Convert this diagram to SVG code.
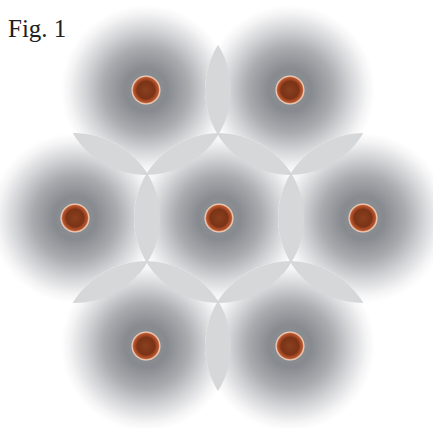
<svg xmlns="http://www.w3.org/2000/svg" width="433" height="428" viewBox="0 0 433 428">
  <defs>
    <radialGradient id="halo" cx="0.5" cy="0.5" r="0.5">
      <stop offset="0" stop-color="#8f9297"/>
      <stop offset="0.25" stop-color="#878a8f"/>
      <stop offset="0.5" stop-color="#a9abaf"/>
      <stop offset="0.72" stop-color="#d4d5d7"/>
      <stop offset="0.9" stop-color="#f4f4f5"/>
      <stop offset="1" stop-color="#ffffff"/>
    </radialGradient>
    <radialGradient id="dot" cx="0.5" cy="0.5" r="0.5">
      <stop offset="0" stop-color="#8a4020"/>
      <stop offset="0.6" stop-color="#7a3316"/>
      <stop offset="0.72" stop-color="#9c4422"/>
      <stop offset="0.86" stop-color="#b9562e"/>
      <stop offset="0.94" stop-color="#ecc2a6"/>
      <stop offset="1" stop-color="#f2d8c8"/>
    </radialGradient>
    <clipPath id="cTL"><circle cx="146" cy="90" r="85"/></clipPath>
    <clipPath id="cTR"><circle cx="290" cy="90" r="85"/></clipPath>
    <clipPath id="cML"><circle cx="75" cy="218" r="85"/></clipPath>
    <clipPath id="cMC"><circle cx="219" cy="218" r="85"/></clipPath>
    <clipPath id="cMR"><circle cx="363" cy="218" r="85"/></clipPath>
    <clipPath id="cBL"><circle cx="146" cy="346" r="85"/></clipPath>
  </defs>
  <style>
    .halo { fill: url(#halo); }
    .dot { fill: url(#dot); }
    .lens { fill: #d6d7d9; }
    .label { font-family: "Liberation Serif", "DejaVu Serif", serif; font-size: 25px; fill: #231f20; }
  </style>
  <rect width="433" height="428" fill="#ffffff"/>
  <g id="node-top-left"><circle class="halo" cx="146" cy="90" r="85"/></g>
  <g id="node-top-right"><circle class="halo" cx="290" cy="90" r="85"/></g>
  <g id="node-mid-left"><circle class="halo" cx="75" cy="218" r="85"/></g>
  <g id="node-mid-center"><circle class="halo" cx="219" cy="218" r="85"/></g>
  <g id="node-mid-right"><circle class="halo" cx="363" cy="218" r="85"/></g>
  <g id="node-bottom-left"><circle class="halo" cx="146" cy="346" r="85"/></g>
  <g id="node-bottom-right"><circle class="halo" cx="290" cy="346" r="85"/></g>
  <g id="overlaps">
    <circle class="lens" cx="290" cy="90" r="85" clip-path="url(#cTL)"/>
    <circle class="lens" cx="75" cy="218" r="85" clip-path="url(#cTL)"/>
    <circle class="lens" cx="219" cy="218" r="85" clip-path="url(#cTL)"/>
    <circle class="lens" cx="219" cy="218" r="85" clip-path="url(#cTR)"/>
    <circle class="lens" cx="363" cy="218" r="85" clip-path="url(#cTR)"/>
    <circle class="lens" cx="219" cy="218" r="85" clip-path="url(#cML)"/>
    <circle class="lens" cx="363" cy="218" r="85" clip-path="url(#cMC)"/>
    <circle class="lens" cx="146" cy="346" r="85" clip-path="url(#cML)"/>
    <circle class="lens" cx="146" cy="346" r="85" clip-path="url(#cMC)"/>
    <circle class="lens" cx="290" cy="346" r="85" clip-path="url(#cMC)"/>
    <circle class="lens" cx="290" cy="346" r="85" clip-path="url(#cMR)"/>
    <circle class="lens" cx="290" cy="346" r="85" clip-path="url(#cBL)"/>
  </g>
  <g id="dots">
    <circle class="dot" cx="146" cy="90" r="14.5"/>
    <circle class="dot" cx="290" cy="90" r="14.5"/>
    <circle class="dot" cx="75" cy="218" r="14.5"/>
    <circle class="dot" cx="219" cy="218" r="14.5"/>
    <circle class="dot" cx="363" cy="218" r="14.5"/>
    <circle class="dot" cx="146" cy="346" r="14.5"/>
    <circle class="dot" cx="290" cy="346" r="14.5"/>
  </g>
  <text class="label" x="8" y="37">Fig. 1</text>
</svg>
